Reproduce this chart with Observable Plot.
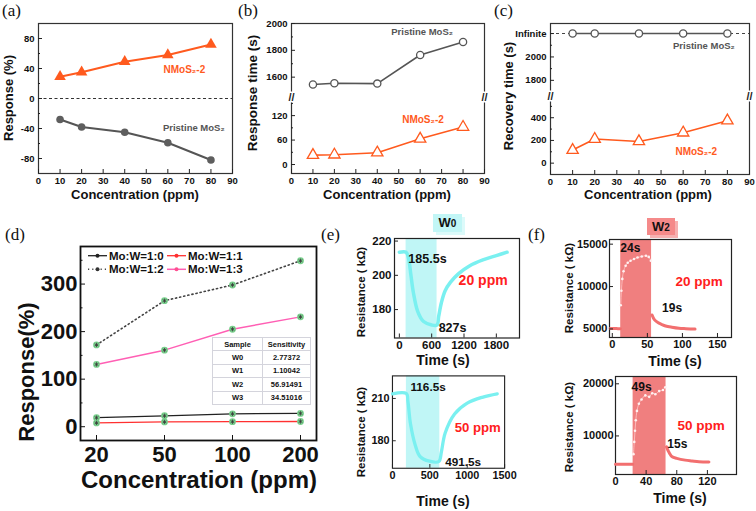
<!DOCTYPE html>
<html><head><meta charset="utf-8">
<script src="https://cdn.jsdelivr.net/npm/d3@7"></script>
<script src="https://cdn.jsdelivr.net/npm/@observablehq/plot@0.6"></script>
<style>
html,body{margin:0;padding:0;background:#fff;}
#fig{position:relative;width:756px;height:511px;overflow:hidden;background:#fff;font-family:"Liberation Sans",Arial,sans-serif;font-weight:bold;color:#111;}
.t{position:absolute;white-space:nowrap;line-height:1;transform:translate(-50%,-50%);}
.rot{transform:translate(-50%,-50%) rotate(-90deg);}
.letter{position:absolute;font-family:"Liberation Serif","Times New Roman",serif;font-weight:normal;font-size:17px;line-height:1;}
.tag{position:absolute;text-align:center;font-size:13px;line-height:18px;}
table.sens{position:absolute;border-collapse:collapse;font-size:7.5px;border:1px solid #8a8aa6;background:#fff;}
table.sens td{border:1px solid #d4d4dc;text-align:center;padding:0;}
</style></head><body><div id="fig"></div>
<script>
// ---------------- data ----------------
const concA = [10, 20, 40, 60, 80];
const respNMoS2 = [29, 35, 49, 58, 72];
const respPristine = [-28, -38, -45, -59, -82];
const rtPristine = [1545, 1555, 1552, 1765, 1862];
const rtNMoS2 = [23, 24, 29, 63, 92];
const recPristine = ["Infinite", "Infinite", "Infinite", "Infinite", "Infinite"];
const recNMoS2 = [115, 212, 191, 268, 374];
const INFINITE_AT = 2200;
const concTicks = [0, 10, 20, 30, 40, 50, 60, 70, 80, 90];

const concD = ["20", "50", "100", "200"];
const respW0 = [19, 23, 27, 28];
const respW1 = [8, 10, 10.5, 11];
const respW2 = [172, 265, 298, 349];
const respW3 = [131, 161, 205, 231];
const sensSamples = ["W0", "W1", "W2", "W3"];
const sensValues = ["2.77372", "1.10042", "56.91491", "34.51016"];

const e20Time = [0, 125, 170, 215, 260, 340, 450, 600, 700, 730, 780, 850, 950, 1100, 1300, 1550, 1800, 2000];
const e20Res = [213.5, 213.5, 210, 200, 190, 179, 173, 171, 171, 176, 184, 191, 196, 201, 205.5, 209, 211.5, 213.5];
const e20Gas = [125, 700];
const e50Time = [0, 186, 207, 241, 304, 367, 494, 620, 654, 705, 831, 1000, 1211, 1401];
const e50Res = [213.3, 213.5, 207.8, 192, 177, 169, 165.5, 165.3, 172, 185.5, 199, 206.7, 211, 213.3];
const e50Gas = [186, 633];

const f20Time = [-3, 3, 8, 11.5, 12, 13, 14.3, 16, 19, 22, 26, 31, 36, 42, 48, 52, 55, 56.7, 60, 65, 70, 76, 85, 95, 105, 112, 118];
const f20Res = [5050, 5050, 5030, 5020, 7800, 9500, 10900, 11800, 12450, 12800, 13040, 13250, 13430, 13550, 13630, 13500, 13040, 6650, 6100, 5750, 5550, 5350, 5200, 5080, 5030, 5000, 4980];
const f20Gas = [12, 56];
const f50Time = [0, 8, 16, 22.5, 23.5, 24.5, 25.5, 26.5, 28, 30.5, 34, 39, 44, 48, 52, 57, 62, 65, 66.6, 70, 74, 80, 91, 100, 109, 122];
const f50Res = [4550, 4550, 4560, 4560, 6500, 8850, 11000, 13000, 14800, 16180, 17000, 17770, 17500, 18200, 18000, 18600, 18800, 19350, 7900, 6800, 6000, 5700, 5360, 5200, 5050, 5000];
const f50Gas = [23, 66];

// ---------------- helpers ----------------
const fig = document.getElementById("fig");
const FONT = '"Liberation Sans", Arial, Helvetica, sans-serif';
const ORANGE = "#ff5a1e", GRAY = "#555";
const fmt = d => String(d);

function html(tag, cls, content, css) {
  const el = document.createElement(tag);
  if (cls) el.className = cls;
  el.innerHTML = content;
  Object.assign(el.style, css);
  fig.appendChild(el);
  return el;
}
function title(text, cx, cy, size, rot) {
  html("div", rot ? "t rot" : "t", text, {left: cx + "px", top: cy + "px", fontSize: size + "px"});
}
function letter(text, x, y) { html("div", "letter", text, {left: x + "px", top: y + "px"}); }

function axes(w, h, o) {
  const tk = o.tick ?? 4, st = o.stroke ?? "#222";
  return [
    Plot.tickX(o.xt, {x: d => d, insetTop: h - tk, stroke: st}),
    Plot.tickX(o.xminor ?? [], {x: d => d, insetTop: h - tk / 2, stroke: st}),
    Plot.tickY(o.yt, {y: d => d, insetRight: w - tk, stroke: st}),
    Plot.tickY(o.yminor ?? [], {y: d => d, insetRight: w - tk / 2, stroke: st}),
    Plot.axisX({ticks: o.xt, tickSize: 0, tickPadding: o.xpad ?? 4, fontSize: o.fs ?? 10, fontWeight: "bold", label: null, tickFormat: o.xfmt ?? fmt, fill: "#111"}),
    Plot.axisY({ticks: o.yt, tickSize: 0, tickPadding: o.ypad ?? 4, fontSize: o.fs ?? 10, fontWeight: "bold", label: null, tickFormat: o.yfmt ?? fmt, fill: "#111"})
  ];
}

function panel(o) {
  const ml = o.ml ?? 45, mr = o.mr ?? 14, mt = o.mt ?? 10, mb = o.mb ?? 30;
  const w = o.R - o.L, h = o.B - o.T;
  const svg = Plot.plot({
    width: w + ml + mr, height: h + mt + mb,
    marginLeft: ml, marginRight: mr, marginTop: mt, marginBottom: mb,
    x: o.x, y: o.y,
    style: {fontFamily: FONT, fontWeight: "bold", fontSize: "10px", background: "transparent", overflow: "visible", color: "#111"},
    marks: o.marks(w, h)
  });
  const left = o.L - ml, top = o.T - mt;
  if (o.clipAt) {
    const wrap = document.createElement("div");
    Object.assign(wrap.style, {position: "absolute", left: left + "px", top: top + "px", width: (o.clipAt - left) + "px", height: (h + mt + mb) + "px", overflow: "hidden"});
    wrap.appendChild(svg);
    fig.appendChild(wrap);
  } else {
    svg.style.position = "absolute";
    svg.style.left = left + "px";
    svg.style.top = top + "px";
    fig.appendChild(svg);
  }
}

const breakMark = (xv, yv) => Plot.text(["//"], {x: xv, y: yv, text: d => d, fontSize: 11, fontWeight: "bold", fill: "#222", stroke: "white", strokeWidth: 3, paintOrder: "stroke"});
// broken axis: values above `hi` are moved down to continue right after `lo`, scaled by k
function brokenAxis(lo, hi, k) {
  const f = v => v <= lo ? v : lo + (v - hi) * k;
  f.invert = u => u <= lo ? u : hi + (u - lo) / k;
  return f;
}

// ---------------- (a) ----------------
const rowsA = concA.map((c, i) => ({c, n: respNMoS2[i], p: respPristine[i]}));
panel({
  L: 38, R: 232, T: 23, B: 173,
  x: {domain: [0, 90]}, y: {domain: [-100, 100]},
  marks: (w, h) => [
    Plot.frame({stroke: "#333", strokeWidth: 1.2}),
    Plot.ruleY([0], {stroke: "#333", strokeDasharray: "3,2.5", strokeWidth: 1.2}),
    Plot.line(rowsA, {x: "c", y: "n", stroke: ORANGE, strokeWidth: 2}),
    Plot.dot(rowsA, {x: "c", y: "n", symbol: "triangle", r: 4.3, fill: ORANGE}),
    Plot.line(rowsA, {x: "c", y: "p", stroke: GRAY, strokeWidth: 2}),
    Plot.dot(rowsA, {x: "c", y: "p", r: 3.8, fill: "#5e5e5e"}),
    Plot.text(["NMoS₂-2"], {x: 58, y: 38, text: d => d, textAnchor: "start", fill: ORANGE, fontSize: 10, fontWeight: "bold"}),
    Plot.text(["Pristine MoS₂"], {x: 57.7, y: -39, text: d => d, textAnchor: "start", fill: GRAY, fontSize: 9.5, fontWeight: "bold"}),
    ...axes(w, h, {xt: concTicks, yt: [-80, -40, 0, 40, 80], yminor: [-60, -20, 20, 60], fs: 9.5})
  ]
});
title("Response (%)", 8, 98, 13, true);
title("Concentration (ppm)", 135, 194, 13);
letter("(a)", 2, 2);

// ---------------- (b) ----------------
const tB = brokenAxis(164, 1447, 0.329);
const rowsB = concA.map((c, i) => ({c, p: tB(rtPristine[i]), n: tB(rtNMoS2[i])}));
panel({
  L: 291, R: 484, T: 23, B: 173,
  x: {domain: [0, 90]},
  y: {domain: [-22, tB(2000)]},
  marks: (w, h) => [
    Plot.frame({stroke: "#333", strokeWidth: 1.2}),
    breakMark(0, tB(164)), breakMark(90, tB(164)),
    Plot.line(rowsB, {x: "c", y: "p", stroke: GRAY, strokeWidth: 1.6}),
    Plot.dot(rowsB, {x: "c", y: "p", r: 3.6, stroke: GRAY, fill: "white", strokeWidth: 1.3}),
    Plot.line(rowsB, {x: "c", y: "n", stroke: ORANGE, strokeWidth: 1.6}),
    Plot.dot(rowsB, {x: "c", y: "n", symbol: "triangle", r: 4.2, stroke: ORANGE, fill: "white", strokeWidth: 1.3}),
    Plot.text(["Pristine MoS₂"], {x: 46.5, y: tB(1935), text: d => d, textAnchor: "start", fill: GRAY, fontSize: 9.5, fontWeight: "bold"}),
    Plot.text(["NMoS₂-2"], {x: 51.6, y: tB(109), text: d => d, textAnchor: "start", fill: ORANGE, fontSize: 10, fontWeight: "bold"}),
    ...axes(w, h, {xt: concTicks, yt: [0, 60, 120, 1600, 1800, 2000].map(tB), yminor: [30, 90, 150, 1700, 1900].map(tB), fs: 9.5,
      yfmt: u => String(Math.round(tB.invert(u)))})
  ]
});
title("Response time (s)", 253, 93, 13.5, true);
title("Concentration (ppm)", 387, 194, 13);
letter("(b)", 238, 2);

// ---------------- (c) ----------------
const tC = brokenAxis(585, 1660, 1.03);
const rowsC = concA.map((c, i) => ({c, p: tC(recPristine[i] === "Infinite" ? INFINITE_AT : recPristine[i]), n: tC(recNMoS2[i])}));
panel({
  L: 550, R: 749, T: 23, B: 174, mr: 5,
  x: {domain: [0, 90]},
  y: {domain: [-100, tC(2286)]},
  marks: (w, h) => [
    Plot.frame({stroke: "#333", strokeWidth: 1.2}),
    breakMark(0, tC(585)), breakMark(90, tC(585)),
    Plot.ruleY([tC(INFINITE_AT)], {stroke: "#444", strokeDasharray: "3,3", strokeWidth: 1.1}),
    Plot.line(rowsC, {x: "c", y: "p", stroke: GRAY, strokeWidth: 1.6}),
    Plot.dot(rowsC, {x: "c", y: "p", r: 3.6, stroke: GRAY, fill: "white", strokeWidth: 1.3}),
    Plot.line(rowsC, {x: "c", y: "n", stroke: ORANGE, strokeWidth: 1.6}),
    Plot.dot(rowsC, {x: "c", y: "n", symbol: "triangle", r: 4.2, stroke: ORANGE, fill: "white", strokeWidth: 1.3}),
    Plot.text(["Pristine MoS₂"], {x: 55.4, y: tC(2094), text: d => d, textAnchor: "start", fill: GRAY, fontSize: 9.5, fontWeight: "bold"}),
    Plot.text(["NMoS₂-2"], {x: 56.5, y: tC(97), text: d => d, textAnchor: "start", fill: ORANGE, fontSize: 10, fontWeight: "bold"}),
    ...axes(w, h, {xt: concTicks, yt: [0, 200, 400, 1800, 2000, INFINITE_AT].map(tC), yminor: [100, 300, 500, 1900, 2100].map(tC), fs: 9.5,
      yfmt: u => { const v = Math.round(tC.invert(u)); return v === INFINITE_AT ? "Infinite" : String(v); }})
  ]
});
title("Recovery time (s)", 508, 96, 13, true);
title("Concentration (ppm)", 648, 194, 13);
letter("(c)", 494, 2);

// ---------------- (d) ----------------
const rowsD = concD.flatMap((c, i) => [
  {c, v: respW0[i], s: "W0"}, {c, v: respW1[i], s: "W1"}, {c, v: respW2[i], s: "W2"}, {c, v: respW3[i], s: "W3"}
]);
const dStyle = {
  W0: {stroke: "#222", strokeWidth: 1.3},
  W1: {stroke: "#ff3030", strokeWidth: 1.3},
  W2: {stroke: "#444", strokeWidth: 1.6, strokeDasharray: "1.2,3"},
  W3: {stroke: "#ff5fb4", strokeWidth: 1.5}
};
panel({
  L: 80, R: 316, T: 246, B: 440, ml: 60, mb: 40, mr: 10,
  x: {type: "point", domain: concD, padding: 0.235},
  y: {domain: [-29, 379]},
  marks: (w, h) => [
    Plot.frame({stroke: "#111", strokeWidth: 1.8}),
    ...["W0", "W1", "W2", "W3"].map(s => Plot.line(rowsD.filter(d => d.s === s), {x: "c", y: "v", ...dStyle[s]})),
    Plot.dot(rowsD, {x: "c", y: "v", r: 3.4, fill: "#78cf8c"}),
    Plot.dot(rowsD, {x: "c", y: "v", r: 2, symbol: "asterisk", stroke: "#3a3a3a", strokeWidth: 0.8}),
    Plot.text(["W₂"], {x: "20", y: 214, dx: 3, text: d => d, textAnchor: "start", fill: "#222", fontSize: 15, fontWeight: "bold"}),
    Plot.text(["W₃"], {x: "20", y: 153, dx: 3, text: d => d, textAnchor: "start", fill: "#ff2a55", fontSize: 15, fontWeight: "bold"}),
    Plot.text(["W₀"], {x: "20", y: 46, dx: 3, text: d => d, textAnchor: "start", fill: "#222", fontSize: 15, fontWeight: "bold"}),
    Plot.text(["W₁"], {x: "20", y: -13, dx: 3, text: d => d, textAnchor: "start", fill: "#ff1f1f", fontSize: 15, fontWeight: "bold"}),
    ...axes(w, h, {xt: concD, yt: [0, 100, 200, 300], yminor: [50, 150, 250, 350], fs: 22, xpad: 6, ypad: 3, tick: 5, stroke: "#111"})
  ]
});
title("Response(%)", 27, 372, 22, true);
title("Concentration (ppm)", 199, 480, 24);
letter("(d)", 5, 226);
// legend
(function () {
  const items = [
    {lab: "Mo:W=1:0", s: "W0", x: 88, y: 255.7, dot: "#222"},
    {lab: "Mo:W=1:1", s: "W1", x: 167, y: 255.7, dot: "#ff3030"},
    {lab: "Mo:W=1:2", s: "W2", x: 88, y: 269.3, dot: "#333"},
    {lab: "Mo:W=1:3", s: "W3", x: 167, y: 269.3, dot: "#ff4f8f"}
  ];
  const ns = "http://www.w3.org/2000/svg";
  const svg = document.createElementNS(ns, "svg");
  svg.setAttribute("width", 756); svg.setAttribute("height", 511);
  Object.assign(svg.style, {position: "absolute", left: "0px", top: "0px", pointerEvents: "none"});
  for (const it of items) {
    const st = dStyle[it.s];
    const ln = document.createElementNS(ns, "line");
    ln.setAttribute("x1", it.x); ln.setAttribute("x2", it.x + 19);
    ln.setAttribute("y1", it.y); ln.setAttribute("y2", it.y);
    ln.setAttribute("stroke", st.stroke); ln.setAttribute("stroke-width", st.strokeWidth);
    if (st.strokeDasharray) ln.setAttribute("stroke-dasharray", st.strokeDasharray);
    svg.appendChild(ln);
    const c = document.createElementNS(ns, "circle");
    c.setAttribute("cx", it.x + 9.5); c.setAttribute("cy", it.y); c.setAttribute("r", 2); c.setAttribute("fill", it.dot);
    svg.appendChild(c);
    const t = document.createElementNS(ns, "text");
    t.setAttribute("x", it.x + 21); t.setAttribute("y", it.y + 4);
    t.setAttribute("font-family", FONT); t.setAttribute("font-weight", "bold"); t.setAttribute("font-size", "11.5");
    t.setAttribute("fill", "#111");
    t.textContent = it.lab;
    svg.appendChild(t);
  }
  fig.appendChild(svg);
})();
// inset table
(function () {
  const rows = [["Sample", "Sensitivity"], ...sensSamples.map((s, i) => [s, sensValues[i]])];
  const tb = document.createElement("table");
  tb.className = "sens";
  Object.assign(tb.style, {left: "212px", top: "337px", width: "99px", height: "68px"});
  tb.innerHTML = rows.map(r => `<tr><td style="width:49px">${r[0]}</td><td>${r[1]}</td></tr>`).join("");
  fig.appendChild(tb);
})();

// ---------------- (e) ----------------
const rowsE20 = e20Time.map((t, i) => ({t, r: e20Res[i]}));
const rowsE50 = e50Time.map((t, i) => ({t, r: e50Res[i]}));
const CYAN = "#7af0f0", CYANBAND = "#c0f6f6";
panel({
  L: 394, R: 519, T: 238, B: 337.5, ml: 35, mb: 20, mr: 8,
  x: {domain: [-90, 2230]}, y: {domain: [163.4, 221.5]},
  marks: (w, h) => [
    Plot.rect([e20Gas], {x1: d => d[0], x2: d => d[1], fill: CYANBAND}),
    Plot.frame({stroke: "#222", strokeWidth: 1.2}),
    Plot.line(rowsE20, {x: "t", y: "r", stroke: CYAN, strokeWidth: 3.5, curve: "catmull-rom"}),
    Plot.text(["185.5s"], {x: 167, y: 209.8, text: d => d, textAnchor: "start", fontSize: 12.5, fontWeight: "bold", fill: "#111"}),
    Plot.text(["20 ppm"], {x: 1100, y: 197, text: d => d, textAnchor: "start", fontSize: 14, fontWeight: "bold", fill: "#ff2020"}),
    Plot.text(["827s"], {x: 729, y: 169.4, text: d => d, textAnchor: "start", fontSize: 12.5, fontWeight: "bold", fill: "#111"}),
    ...axes(w, h, {xt: [0, 600, 1200, 1800], yt: [180, 200, 220], fs: 11.5, xpad: 3, ypad: 3})
  ]
});
panel({
  L: 394, R: 513, T: 376, B: 474, ml: 35, mb: 20, mr: 20, clipAt: 523,
  x: {domain: [0, 1500]}, y: {domain: [160.5, 226]},
  marks: (w, h) => [
    Plot.rect([e50Gas], {x1: d => d[0], x2: d => d[1], fill: CYANBAND}),
    Plot.frame({stroke: "#222", strokeWidth: 1.2}),
    Plot.line(rowsE50, {x: "t", y: "r", stroke: CYAN, strokeWidth: 3.5, curve: "catmull-rom"}),
    Plot.text(["116.5s"], {x: 240, y: 217.8, text: d => d, textAnchor: "start", fontSize: 12.5, fontWeight: "bold", fill: "#111"}),
    Plot.text(["50 ppm"], {x: 832, y: 188.9, text: d => d, textAnchor: "start", fontSize: 14, fontWeight: "bold", fill: "#ff2020"}),
    Plot.text(["491.5s"], {x: 705, y: 164.5, text: d => d, textAnchor: "start", fontSize: 12.5, fontWeight: "bold", fill: "#111"}),
    ...axes(w, h, {xt: [0, 500, 1000, 1500], yt: [180, 210], fs: 11.5, xpad: 3, ypad: 3})
  ]
});
title("Resistance ( kΩ)", 362, 292, 11.5, true);
title("Resistance ( kΩ)", 362, 432, 11.5, true);
title("Time (s)", 443, 360, 14);
title("Time (s)", 443, 501, 14);
letter("(e)", 321, 226);
html("div", "tag", "W<span style='font-size:10px'>0</span>", {left: "433px", top: "214px", width: "29px", height: "18px", background: "#c2f6f6", boxShadow: "3px 3px 0 #dcfafa"});

// ---------------- (f) ----------------
const phase = (t, g) => t < g[0] ? "pre" : t <= g[1] ? "on" : "off";
const rowsF20 = f20Time.map((t, i) => ({t, r: f20Res[i], ph: phase(t, f20Gas)}));
const rowsF50 = f50Time.map((t, i) => ({t, r: f50Res[i], ph: phase(t, f50Gas)}));
const SALMON = "#f07f7f", SALMONLINE = "#f26f6f";
function fMarks(rows, gas) {
  return [
    Plot.rect([gas], {x1: d => d[0], x2: d => d[1], fill: SALMON}),
    Plot.frame({stroke: "#222", strokeWidth: 1.2}),
    Plot.line(rows.filter(d => d.ph !== "on"), {x: "t", y: "r", z: "ph", stroke: SALMONLINE, strokeWidth: 3, curve: "catmull-rom"}),
    Plot.line(rows.filter(d => d.ph === "on"), {x: "t", y: "r", stroke: "#ffc8c8", strokeWidth: 0.8, curve: "catmull-rom"}),
    Plot.dot(rows.filter(d => d.ph === "on"), {x: "t", y: "r", r: 1.3, fill: "#fff0f0"})
  ];
}
panel({
  L: 609, R: 731, T: 239, B: 337, ml: 45, mb: 20, mr: 8,
  x: {domain: [-4, 170]}, y: {domain: [3990, 15550]},
  marks: (w, h) => [
    ...fMarks(rowsF20, f20Gas),
    Plot.text(["24s"], {x: 11.4, y: 14576, text: d => d, textAnchor: "start", fontSize: 12, fontWeight: "bold", fill: "#111"}),
    Plot.text(["20 ppm"], {x: 90, y: 10518, text: d => d, textAnchor: "start", fontSize: 13.5, fontWeight: "bold", fill: "#ff2020"}),
    Plot.text(["19s"], {x: 71, y: 7459, text: d => d, textAnchor: "start", fontSize: 12, fontWeight: "bold", fill: "#111"}),
    ...axes(w, h, {xt: [0, 50, 100, 150], yt: [5000, 10000, 15000], fs: 11, xpad: 3, ypad: 2})
  ]
});
panel({
  L: 615, R: 736, T: 376, B: 474, ml: 45, mb: 20, mr: 8,
  x: {domain: [0, 158]}, y: {domain: [2600, 21400]},
  marks: (w, h) => [
    ...fMarks(rowsF50, f50Gas),
    Plot.text(["49s"], {x: 21, y: 19350, text: d => d, textAnchor: "start", fontSize: 12, fontWeight: "bold", fill: "#111"}),
    Plot.text(["50 ppm"], {x: 80.8, y: 12046, text: d => d, textAnchor: "start", fontSize: 13.5, fontWeight: "bold", fill: "#ff2020"}),
    Plot.text(["15s"], {x: 67.7, y: 8413, text: d => d, textAnchor: "start", fontSize: 12, fontWeight: "bold", fill: "#111"}),
    ...axes(w, h, {xt: [0, 40, 80, 120], yt: [10000, 20000], fs: 11, xpad: 3, ypad: 2})
  ]
});
title("Resistance ( kΩ)", 570, 288, 11.5, true);
title("Resistance ( kΩ)", 570, 427, 11.5, true);
title("Time (s)", 675, 361, 14);
title("Time (s)", 680, 498, 14);
letter("(f)", 528, 226);
html("div", "tag", "W<span style='font-size:10px'>2</span>", {left: "647px", top: "218px", width: "28px", height: "17px", lineHeight: "17px", background: "#f58a8a", boxShadow: "3px 3px 0 #f7b0b0"});
</script>
</body></html>
